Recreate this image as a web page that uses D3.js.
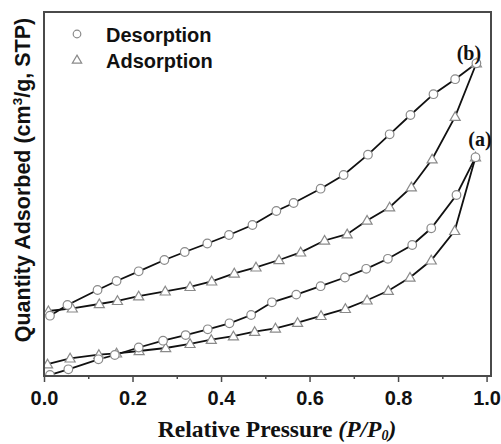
<!DOCTYPE html>
<html>
<head>
<meta charset="utf-8">
<script src="https://cdn.jsdelivr.net/npm/d3@7"></script>
<style>
  body { margin: 0; background: #fff; }
  svg { display: block; }
</style>
</head>
<body>
<svg width="501" height="444"></svg>
<script>
const svg = d3.select("svg");

// relative pressure P/P0 and quantity adsorbed (arbitrary units)
var desorbB_x = [0.0135, 0.053, 0.121, 0.164, 0.214, 0.272, 0.318, 0.369, 0.418, 0.471, 0.525, 0.564, 0.625, 0.677, 0.732, 0.781, 0.828, 0.880, 0.929, 0.977];
var desorbB_y = [16.57, 19.51, 23.63, 26.10, 28.76, 31.87, 34.07, 36.40, 38.74, 41.48, 45.33, 47.53, 51.46, 55.22, 60.80, 66.40, 71.70, 77.42, 81.54, 85.91];

var adsorbB_x = [0.010, 0.064, 0.125, 0.166, 0.214, 0.274, 0.330, 0.379, 0.430, 0.479, 0.531, 0.580, 0.634, 0.685, 0.730, 0.781, 0.830, 0.877, 0.929, 0.977];
var adsorbB_y = [17.86, 18.60, 19.78, 20.66, 21.92, 23.27, 24.51, 26.02, 28.21, 29.86, 31.87, 33.98, 37.23, 38.96, 42.72, 46.37, 51.87, 59.56, 71.24, 85.91];

var desorbA_x = [0.0135, 0.055, 0.123, 0.160, 0.214, 0.269, 0.320, 0.370, 0.419, 0.468, 0.515, 0.570, 0.625, 0.680, 0.728, 0.777, 0.832, 0.875, 0.932, 0.975];
var desorbA_y = [0.3, 1.84, 4.59, 5.77, 7.83, 9.70, 11.24, 12.83, 14.48, 16.76, 20.25, 22.36, 24.67, 27.06, 29.45, 32.20, 35.99, 40.58, 49.73, 60.08];

var adsorbA_x = [0.008, 0.059, 0.124, 0.164, 0.215, 0.275, 0.330, 0.378, 0.428, 0.476, 0.523, 0.573, 0.626, 0.681, 0.730, 0.778, 0.827, 0.875, 0.928, 0.975];
var adsorbA_y = [3.24, 4.86, 5.85, 6.24, 6.87, 7.69, 8.85, 9.97, 10.93, 12.17, 13.10, 14.64, 16.54, 18.46, 20.80, 23.43, 27.06, 31.79, 39.89, 60.08];

var xTicks = [0, 0.2, 0.4, 0.6, 0.8, 1.0];
var xMinorTicks = [0.1, 0.3, 0.5, 0.7, 0.9];

var legendItems = ["Desorption", "Adsorption"];

var series = [
  { name: "adsorbA", xs: adsorbA_x, ys: adsorbA_y, shape: "triangle" },
  { name: "desorbA", xs: desorbA_x, ys: desorbA_y, shape: "circle" },
  { name: "adsorbB", xs: adsorbB_x, ys: adsorbB_y, shape: "triangle" },
  { name: "desorbB", xs: desorbB_x, ys: desorbB_y, shape: "circle" }
];

var mLeft = 44, mRight = 491, mTop = 12, mBottom = 376;

var x = d3.scaleLinear().domain([0, 1.01]).range([mLeft, mRight]);
var y = d3.scaleLinear().domain([0, 100]).range([mBottom, mTop]);

var markerStroke = "#8a8a8a";
var triangle = d3.symbol().type(d3.symbolTriangle).size(44);

svg.append("defs").append("clipPath").attr("id", "plotclip")
  .append("rect")
  .attr("x", mLeft).attr("y", mTop)
  .attr("width", mRight - mLeft).attr("height", mBottom - mTop);

var plot = svg.append("g").attr("clip-path", "url(#plotclip)");

var line = d3.line()
  .x(function (d) { return x(d[0]); })
  .y(function (d) { return y(d[1]); });

series.forEach(function (s) {
  s.points = s.xs.map(function (v, i) { return [v, s.ys[i]]; });
});

// lines
plot.selectAll("path.curve")
  .data(series)
  .join("path")
  .attr("class", "curve")
  .attr("fill", "none")
  .attr("stroke", "#111")
  .attr("stroke-width", 1.8)
  .attr("d", function (d) { return line(d.points); });

// markers
series.forEach(function (s) {
  var g = plot.append("g");
  if (s.shape === "circle") {
    g.selectAll("circle")
      .data(s.points)
      .join("circle")
      .attr("cx", function (d) { return x(d[0]); })
      .attr("cy", function (d) { return y(d[1]); })
      .attr("r", 4.3)
      .attr("fill", "#fff")
      .attr("stroke", markerStroke)
      .attr("stroke-width", 1.2);
  } else {
    g.selectAll("path")
      .data(s.points)
      .join("path")
      .attr("d", triangle)
      .attr("transform", function (d) { return "translate(" + x(d[0]) + "," + (y(d[1]) + 0.8) + ")"; })
      .attr("fill", "#fff")
      .attr("stroke", markerStroke)
      .attr("stroke-width", 1.2);
  }
});

// frame
svg.append("rect")
  .attr("x", mLeft).attr("y", mTop)
  .attr("width", mRight - mLeft).attr("height", mBottom - mTop)
  .attr("fill", "none")
  .attr("stroke", "#4a4a4a")
  .attr("stroke-width", 2);

// x axis
var xAxis = d3.axisBottom(x).tickValues(xTicks).tickSize(6).tickFormat(d3.format(".1f"));
var ax = svg.append("g").attr("transform", "translate(0," + mBottom + ")").call(xAxis);
ax.select(".domain").remove();
ax.selectAll(".tick line").attr("stroke", "#4a4a4a").attr("stroke-width", 1.5);
ax.selectAll(".tick text")
  .attr("y", 29)
  .attr("dy", null)
  .attr("fill", "#111")
  .style("font-family", "'Liberation Sans', Arial, sans-serif")
  .style("font-weight", "bold")
  .style("font-size", "20px");

var axMinor = d3.axisBottom(x).tickValues(xMinorTicks).tickSize(3).tickFormat("");
var am = svg.append("g").attr("transform", "translate(0," + mBottom + ")").call(axMinor);
am.select(".domain").remove();
am.selectAll(".tick line").attr("stroke", "#4a4a4a").attr("stroke-width", 1.5);

// axis titles
var xt = svg.append("text")
  .attr("x", 277).attr("y", 437)
  .attr("text-anchor", "middle")
  .style("font-family", "'Liberation Serif', 'Times New Roman', serif")
  .style("font-weight", "bold")
  .style("font-size", "23.5px")
  .attr("fill", "#111");
xt.append("tspan").text("Relative Pressure ");
xt.append("tspan").style("font-style", "italic").text("(P/P");
xt.append("tspan").style("font-style", "italic").style("font-size", "14px").attr("dy", 3).text("0");
xt.append("tspan").style("font-style", "italic").attr("dy", -3).text(")");

var yt = svg.append("text")
  .attr("transform", "translate(30,180) rotate(-90)")
  .attr("text-anchor", "middle")
  .style("font-family", "'Liberation Sans', Arial, sans-serif")
  .style("font-weight", "bold")
  .style("font-size", "21.5px")
  .attr("fill", "#111");
yt.append("tspan").text("Quantity Adsorbed (cm");
yt.append("tspan").style("font-size", "13.5px").attr("dy", -8).text("3");
yt.append("tspan").attr("dy", 8).text("/g, STP)");

// curve labels
svg.append("text")
  .attr("x", x(0.96)).attr("y", y(86.9))
  .attr("text-anchor", "middle")
  .style("font-family", "'Liberation Serif', 'Times New Roman', serif")
  .style("font-weight", "bold")
  .style("font-size", "20px")
  .attr("fill", "#111")
  .text("(b)");

svg.append("text")
  .attr("x", x(0.985)).attr("y", y(63.1))
  .attr("text-anchor", "middle")
  .style("font-family", "'Liberation Serif', 'Times New Roman', serif")
  .style("font-weight", "bold")
  .style("font-size", "20px")
  .attr("fill", "#111")
  .text("(a)");

// legend
var legend = svg.append("g");
legendItems.forEach(function (name, i) {
  var cy = 34 + i * 26;
  if (i === 0) {
    legend.append("circle")
      .attr("cx", 77).attr("cy", cy).attr("r", 3.8)
      .attr("fill", "#fff").attr("stroke", markerStroke).attr("stroke-width", 1.2);
  } else {
    legend.append("path")
      .attr("d", d3.symbol().type(d3.symbolTriangle).size(38))
      .attr("transform", "translate(77," + (cy + 0.5) + ")")
      .attr("fill", "#fff").attr("stroke", markerStroke).attr("stroke-width", 1.2);
  }
  legend.append("text")
    .attr("x", 106).attr("y", cy + 7.5)
    .style("font-family", "'Liberation Sans', Arial, sans-serif")
    .style("font-weight", "bold")
    .style("font-size", "20px")
    .attr("fill", "#111")
    .text(name);
});
</script>
</body>
</html>
